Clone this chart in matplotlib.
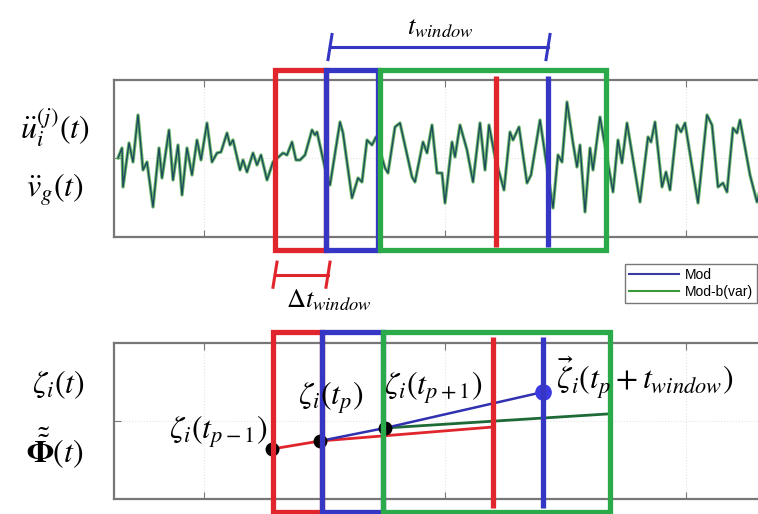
import matplotlib
matplotlib.use("Agg")
import matplotlib.pyplot as plt
from matplotlib.patches import Rectangle
from matplotlib.transforms import blended_transform_factory

plt.rcParams['mathtext.fontset'] = 'stix'
plt.rcParams['font.family'] = ['Liberation Sans', 'DejaVu Sans']

W, H = 758, 514

# ground motion record (time, acceleration), peaks and troughs
t_acc = [0.4, 0.8, 0.9, 1.5, 1.9, 2.4, 2.9, 3.3, 3.9, 4.5, 4.8, 5.5, 5.9, 6.4, 6.8,
         7.3, 7.8, 8.3, 8.7, 9.3, 9.8, 10.3, 10.7, 11.3, 11.6, 11.9, 12.6, 12.9,
         13.3, 13.9, 14.3, 14.7, 15.3, 15.9, 16.9, 17.3, 17.8, 18.2, 18.6, 19.1,
         19.8, 20.1, 20.3, 21.1, 21.6, 22.6, 22.9, 23.8, 24.4, 24.8, 25.3, 25.8,
         26.2, 27.1, 27.4, 28.1, 28.6, 29.8, 30.1, 30.9, 31.3, 31.8, 32.3, 32.8,
         33.1, 33.8, 34.1, 34.6, 35.3, 35.9, 36.6, 37.1, 37.5, 38.1, 39.0, 39.6,
         39.9, 40.5, 41.3, 41.7, 42.6, 43.9, 44.4, 44.8, 45.3, 45.9, 46.3, 46.6,
         47.1, 47.6, 47.9, 48.6, 49.9, 50.4, 50.8, 51.3, 52.6, 53.4, 53.7, 54.1,
         54.8, 55.2, 55.6, 56.3, 56.7, 57.1, 58.4, 59.3, 59.8, 60.4, 60.9, 61.3,
         61.9, 62.3, 62.6, 63.6, 64.3, 65.1]
acc_mod = [0.0, 1.0, -2.9, 1.5, -0.4, 4.3, -1.2, -0.4, -4.9, 1.0, -2.0, 2.8, -2.2,
           1.3, -3.7, 1.0, -1.7, 1.8, -0.2, 3.5, -0.4, 0.5, 0.6, 2.5, 1.3, 1.8,
           -1.2, -0.2, -1.4, 0.5, -0.7, 0.3, -2.2, -0.4, 0.5, 0.3, 1.6, -0.2, -0.2,
           0.3, 2.8, 2.3, 2.6, -1.0, -2.7, 3.6, 2.5, -4.0, -2.0, -2.4, 1.8, 1.3,
           2.1, -1.0, -1.5, 3.1, 3.5, -1.9, -2.4, 1.6, 0.5, 3.3, -1.5, -1.5, -4.5,
           1.6, 0.1, 3.3, 0.8, -2.4, 3.5, -1.2, 3.3, 0.1, -3.2, 2.6, 1.8, 3.1,
           -2.5, -1.7, 3.8, -5.0, 0.3, -0.4, 5.6, 1.5, -0.9, 1.3, -5.4, 1.0, -1.2,
           4.1, -3.4, 1.8, -0.5, 3.5, -4.4, 2.1, 1.6, 3.6, -2.9, -1.4, -3.2, 3.3,
           2.6, 3.5, -4.5, 4.3, 3.3, -2.9, -2.5, -3.4, 3.0, 2.5, 3.8, -1.7, -4.4,
           -1.2]
acc_mod_b = acc_mod  # variable-b model follows the record closely

# modal response at the window nodes
t_prev = [15.8, 20.6, 37.9]
z_prev = [-2.8, -2.0, -0.6]
t_cur = [20.6, 27.1, 42.9]
z_cur = [-2.0, -0.7, 2.9]
t_next = [27.1, 49.3]
z_next = [-0.7, 0.7]
t_nodes = [15.8, 20.6, 27.1]
z_nodes = [-2.8, -2.0, -0.7]

# moving windows: (start, end) for each panel, plus the end markers
win_top = {'red': (16.1, 21.2), 'blue': (21.2, 26.4), 'green': (26.6, 49.2)}
end_top = {'red': 38.2, 'blue': 43.4}
win_bot = {'red': (15.9, 20.8), 'blue': (20.8, 26.9), 'green': (26.9, 49.6)}
end_bot = {'red': 37.9, 'blue': 42.9}

RED, BLUE, GREEN = '#e0252c', '#3636c4', '#2aaa48'
FRAME = '#777777'

fig = plt.figure(figsize=(W / 100, H / 100), dpi=100)


def px(x, y):
    return x / W, 1 - y / H


def setup(ax):
    ax.set_xlim(0, 68.6)
    ax.set_xticks([9.0, 33.1, 57.2])
    ax.set_yticks([0])
    ax.tick_params(direction='in', length=5, color=FRAME, top=True,
                   labelbottom=False, labelleft=False)
    ax.grid(True, color='#e4e4e4', lw=0.8, ls=':')
    for s in ax.spines.values():
        s.set_color(FRAME)
        s.set_linewidth(1.6)


ax1 = fig.add_axes([114 / W, (H - 237) / H, 686 / W, 157 / H])
setup(ax1)
ax1.set_ylim(-7.9, 7.8)
l_green, = ax1.plot(t_acc, acc_mod_b, color='#6dbb6d', lw=2.4, label='Mod-b(var)',
                    solid_joinstyle='round')
l_blue, = ax1.plot(t_acc, acc_mod, color='#1f4a5e', lw=1.0, label='Mod',
                   solid_joinstyle='round')

ax2 = fig.add_axes([114 / W, (H - 499) / H, 686 / W, 156 / H])
setup(ax2)
ax2.set_ylim(-7.8, 7.8)
ax2.plot(t_prev, z_prev, color=RED, lw=2.0, zorder=3)
ax2.plot(t_next, z_next, color='#1e6a36', lw=2.0, zorder=3)
ax2.plot(t_cur, z_cur, color='#3030b0', lw=1.8, zorder=3)
ax2.plot(t_nodes, z_nodes, 'o', color='black', ms=9, zorder=5)
ax2.plot(t_cur[-1], z_cur[-1], 'o', color='#3a3ae0', ms=11, zorder=5)


def windows(ax, win, ends, y0, y1, e0, e1):
    tr = blended_transform_factory(ax.transData, ax.transAxes)
    for c, col in (('red', RED), ('blue', BLUE), ('green', GREEN)):
        a, b = win[c]
        ax.add_patch(Rectangle((a, y0), b - a, y1 - y0, transform=tr, fill=False,
                               ec=col, lw=3.8, clip_on=False, zorder=6))
    for c, col in (('red', RED), ('blue', BLUE)):
        ax.plot([ends[c], ends[c]], [e0, e1], transform=tr, color=col, lw=3.8,
                clip_on=False, zorder=6, solid_capstyle='butt')
    return tr


tr1 = windows(ax1, win_top, end_top, -0.083, 1.064, -0.064, 1.025)
tr2 = windows(ax2, win_bot, end_bot, -0.083, 1.07, -0.058, 1.038)

# window length and window step brackets
yb = 1.21
ax1.plot([21.6, end_top['blue']], [yb, yb], transform=tr1, color=BLUE, lw=2.2,
         clip_on=False)
for x in (21.6, end_top['blue']):
    ax1.plot([x - 0.2, x + 0.2], [yb - 0.08, yb + 0.08], transform=tr1,
             color=BLUE, lw=2.2, clip_on=False)
ys = -0.24
ax1.plot([win_top['red'][0], 21.4], [ys, ys], transform=tr1, color=RED, lw=2.2,
         clip_on=False)
for x in (win_top['red'][0], 21.4):
    ax1.plot([x - 0.2, x + 0.2], [ys - 0.08, ys + 0.08], transform=tr1,
             color=RED, lw=2.2, clip_on=False)

fs = 23
kw = dict(fontsize=fs, ha='center', va='center')
fig.text(*px(440, 28), r'$t_{window}$', fontsize=19, ha='center', va='center')
fig.text(*px(329, 300), r'$\Delta t_{window}$', fontsize=19, ha='center', va='center')
fig.text(*px(55, 127), r'$\ddot{u}_i^{(j)}\left(t\right)$', **kw)
fig.text(*px(55, 190), r'$\ddot{v}_g\left(t\right)$', **kw)
fig.text(*px(58, 385), r'$\zeta_i\left(t\right)$', **kw)
fig.text(*px(55, 448), r'$\tilde{\tilde{\mathbf{\Phi}}}\left(t\right)$', **kw)
fig.text(*px(218, 432), r'$\zeta_i\left(t_{p-1}\right)$', **kw)
fig.text(*px(331, 398), r'$\zeta_i\left(t_p\right)$', **kw)
fig.text(*px(433, 388), r'$\zeta_i\left(t_{p+1}\right)$', **kw)
fig.text(*px(645, 378), r'$\vec{\zeta}_i\left(t_p+t_{window}\right)$', **kw)

fig.legend(handles=[l_blue, l_green], labels=['Mod', 'Mod-b(var)'],
           loc='upper right', bbox_to_anchor=px(757, 264), fontsize=10,
           fancybox=False, edgecolor=FRAME, framealpha=1, borderpad=0.3,
           handlelength=3.6, labelspacing=0.2, handletextpad=0.4, borderaxespad=0)
for h, c in zip(fig.legends[0].legend_handles, ['#3a3aa0', '#3a9a3a']):
    h.set_color(c)
    h.set_linewidth(1.5)

fig.savefig('out.png', dpi=100)
